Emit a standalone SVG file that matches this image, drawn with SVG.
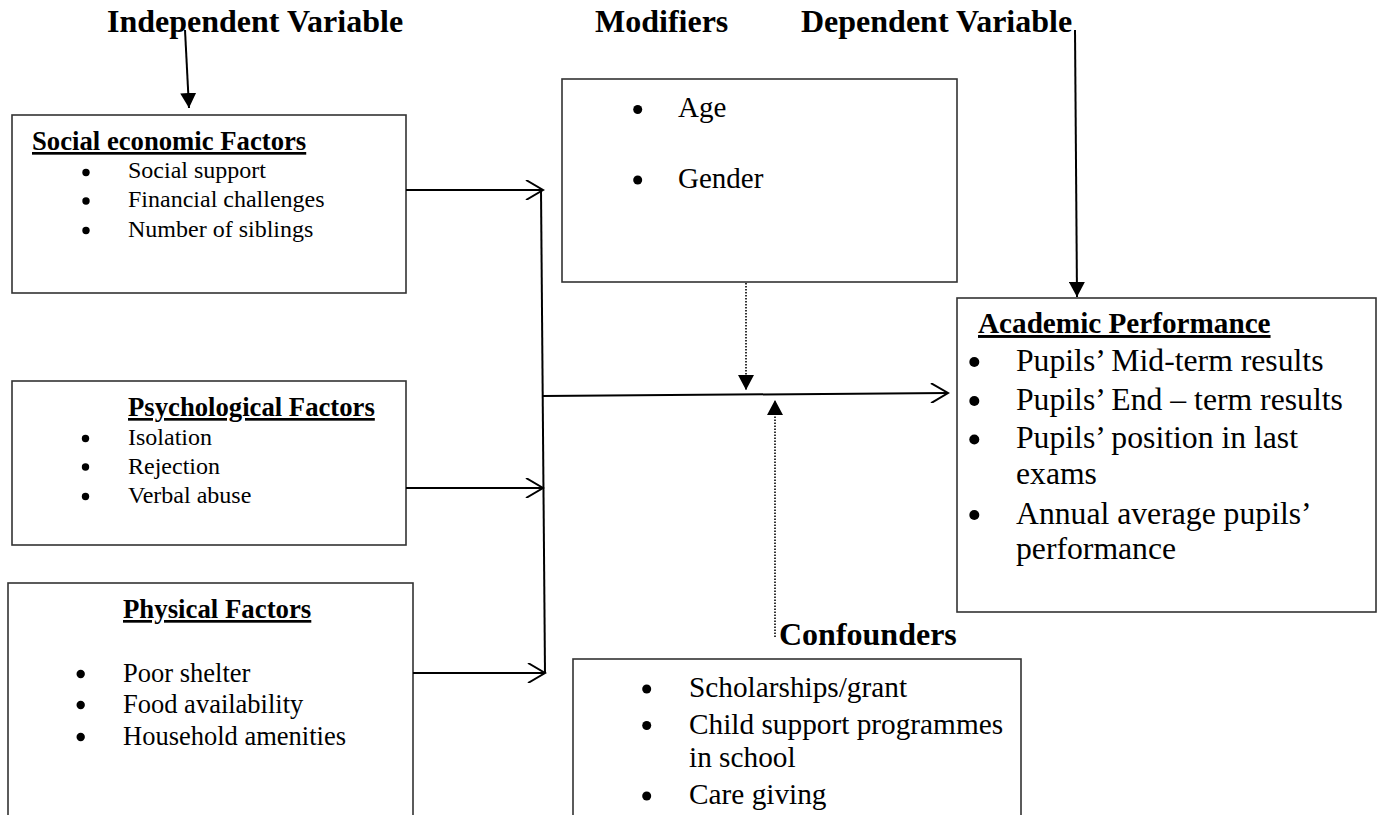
<svg xmlns="http://www.w3.org/2000/svg" width="1381" height="815" viewBox="0 0 1381 815">
<style>
text{font-family:"Liberation Serif","Times New Roman",serif;fill:#000}
.hdr{font-size:32px;font-weight:bold}
.ttl{font-weight:bold;text-decoration:underline}
.box{fill:#fff;stroke:#333;stroke-width:1.6}
.ln{fill:none;stroke:#000;stroke-width:2}
.dot{fill:none;stroke:#000;stroke-width:1.6;stroke-dasharray:1.5 1.5}
.b{fill:#000}
</style>
<defs>
<marker id="open" viewBox="0 0 20 20" refX="18" refY="10" markerWidth="20" markerHeight="20" markerUnits="userSpaceOnUse" orient="auto">
<path d="M1,0 L18,10 L1,20" fill="none" stroke="#000" stroke-width="2"/>
</marker>
<marker id="fill" viewBox="0 0 16 16" refX="15" refY="8" markerWidth="16" markerHeight="16" markerUnits="userSpaceOnUse" orient="auto">
<path d="M0,0 L15,8 L0,16 Z" fill="#000"/>
</marker>
</defs>

<g id="headers">
<text class="hdr" x="107" y="32">Independent Variable</text>
<text class="hdr" x="595" y="32">Modifiers</text>
<text class="hdr" x="801" y="32">Dependent Variable</text>
<text class="hdr" x="779" y="645">Confounders</text>
</g>

<g id="social">
<rect class="box" x="12" y="115" width="394" height="178"/>
<text class="ttl" x="32" y="150" font-size="26.7">Social economic Factors</text>
<circle class="b" cx="86" cy="172.5" r="3.7"/>
<circle class="b" cx="86" cy="201" r="3.7"/>
<circle class="b" cx="86" cy="230.5" r="3.7"/>
<g font-size="24">
<text x="128" y="178">Social support</text>
<text x="128" y="207">Financial challenges</text>
<text x="128" y="237">Number of siblings</text>
</g>
</g>

<g id="psychological">
<rect class="box" x="12" y="381" width="394" height="164"/>
<text class="ttl" x="128" y="416" font-size="26.7">Psychological Factors</text>
<circle class="b" cx="85.5" cy="438.5" r="3.7"/>
<circle class="b" cx="85.5" cy="467" r="3.7"/>
<circle class="b" cx="85.5" cy="496.5" r="3.7"/>
<g font-size="24">
<text x="128" y="445">Isolation</text>
<text x="128" y="473.5">Rejection</text>
<text x="128" y="503">Verbal abuse</text>
</g>
</g>

<g id="physical">
<rect class="box" x="8" y="583" width="405" height="260"/>
<text class="ttl" x="123" y="618" font-size="26.8">Physical Factors</text>
<circle class="b" cx="80.7" cy="674" r="4.2"/>
<circle class="b" cx="80.7" cy="705" r="4.2"/>
<circle class="b" cx="80.7" cy="737" r="4.2"/>
<g font-size="26.5">
<text x="123" y="681.5">Poor shelter</text>
<text x="123" y="713">Food availability</text>
<text x="123" y="745">Household amenities</text>
</g>
</g>

<g id="modifiers">
<rect class="box" x="562" y="79" width="395" height="203"/>
<circle class="b" cx="637.7" cy="109.5" r="4.5"/>
<circle class="b" cx="637.7" cy="180" r="4.5"/>
<g font-size="29">
<text x="678" y="117.3">Age</text>
<text x="678" y="188">Gender</text>
</g>
</g>

<g id="academic">
<rect class="box" x="957" y="298" width="419" height="314"/>
<text class="ttl" x="978" y="333" font-size="29.2">Academic Performance</text>
<circle class="b" cx="974.3" cy="362" r="5"/>
<circle class="b" cx="974.3" cy="401" r="5"/>
<circle class="b" cx="974.3" cy="439.5" r="5"/>
<circle class="b" cx="974.3" cy="515" r="5"/>
<g font-size="31.7">
<text x="1016" y="371">Pupils’ Mid-term results</text>
<text x="1016" y="409.5">Pupils’ End – term results</text>
<text x="1016" y="448">Pupils’ position in last</text>
<text x="1016" y="484">exams</text>
<text x="1016" y="523.5">Annual average pupils’</text>
<text x="1016" y="559">performance</text>
</g>
</g>

<g id="confounders">
<rect class="box" x="573" y="659" width="448" height="200"/>
<circle class="b" cx="646.7" cy="689" r="4.5"/>
<circle class="b" cx="646.7" cy="725.5" r="4.5"/>
<circle class="b" cx="646.7" cy="796" r="4.5"/>
<g font-size="29.3">
<text x="689" y="697">Scholarships/grant</text>
<text x="689" y="733.5">Child support programmes</text>
<text x="689" y="767">in school</text>
<text x="689" y="803.5">Care giving</text>
</g>
</g>

<g id="connectors">
<line class="ln" x1="185" y1="30" x2="189" y2="108" marker-end="url(#fill)"/>
<line class="ln" x1="1075" y1="30" x2="1077" y2="297" marker-end="url(#fill)"/>
<line class="ln" x1="406" y1="190" x2="543" y2="190" marker-end="url(#open)"/>
<line class="ln" x1="406" y1="488" x2="543" y2="488" marker-end="url(#open)"/>
<line class="ln" x1="413" y1="673" x2="545" y2="673" marker-end="url(#open)"/>
<line class="ln" x1="541" y1="190" x2="545" y2="673"/>
<line class="ln" x1="543" y1="396" x2="948" y2="393" marker-end="url(#open)"/>
<line class="dot" x1="746" y1="283" x2="746" y2="390" marker-end="url(#fill)"/>
<line class="dot" x1="775" y1="637" x2="775" y2="400" marker-end="url(#fill)"/>
</g>
</svg>
